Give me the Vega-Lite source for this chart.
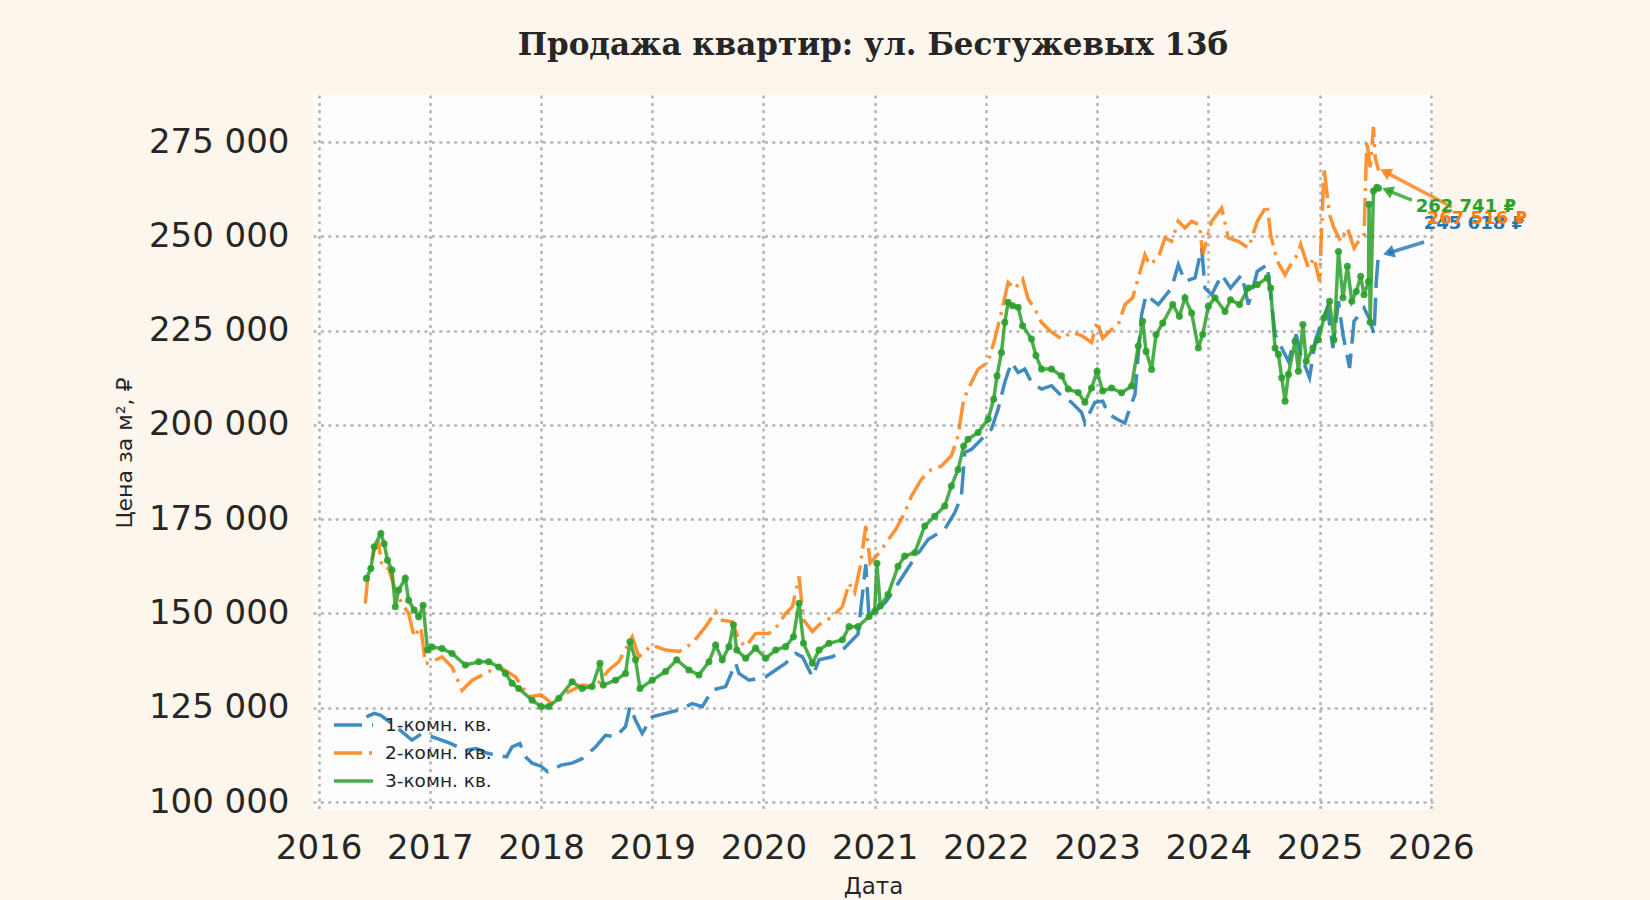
{
  "$schema": "https://vega.github.io/schema/vega-lite/v6.json",
  "autosize": "none",
  "width": 1120,
  "height": 715,
  "padding": {"left": 313, "top": 95, "right": 217, "bottom": 90},
  "background": "#fdf6ec",
  "title": {
    "text": "Продажа квартир: ул. Бестужевых 13б",
    "font": "DejaVu Serif",
    "fontSize": 31,
    "fontWeight": "bold",
    "color": "#262626",
    "anchor": "middle",
    "offset": 33
  },
  "datasets": {
    "prices": [
      {"rooms": "1", "year": 2016.43, "price": 122600}, {"rooms": "1", "year": 2016.5, "price": 123500},
      {"rooms": "1", "year": 2016.56, "price": 123000}, {"rooms": "1", "year": 2016.65, "price": 121000},
      {"rooms": "1", "year": 2016.73, "price": 119100}, {"rooms": "1", "year": 2016.84, "price": 116400},
      {"rooms": "1", "year": 2016.92, "price": 118000}, {"rooms": "1", "year": 2017.02, "price": 117300},
      {"rooms": "1", "year": 2017.1, "price": 116500}, {"rooms": "1", "year": 2017.18, "price": 115600},
      {"rooms": "1", "year": 2017.26, "price": 114500}, {"rooms": "1", "year": 2017.33, "price": 113800},
      {"rooms": "1", "year": 2017.42, "price": 114200}, {"rooms": "1", "year": 2017.51, "price": 113000},
      {"rooms": "1", "year": 2017.6, "price": 112400}, {"rooms": "1", "year": 2017.69, "price": 112000},
      {"rooms": "1", "year": 2017.74, "price": 114600}, {"rooms": "1", "year": 2017.81, "price": 115500},
      {"rooms": "1", "year": 2017.86, "price": 112000}, {"rooms": "1", "year": 2017.92, "price": 110300},
      {"rooms": "1", "year": 2018.0, "price": 109500}, {"rooms": "1", "year": 2018.06, "price": 108000},
      {"rooms": "1", "year": 2018.1, "price": 108500}, {"rooms": "1", "year": 2018.18, "price": 109800},
      {"rooms": "1", "year": 2018.28, "price": 110300}, {"rooms": "1", "year": 2018.37, "price": 111500},
      {"rooms": "1", "year": 2018.46, "price": 113800}, {"rooms": "1", "year": 2018.49, "price": 114600},
      {"rooms": "1", "year": 2018.58, "price": 117700}, {"rooms": "1", "year": 2018.67, "price": 117300},
      {"rooms": "1", "year": 2018.76, "price": 120000}, {"rooms": "1", "year": 2018.8, "price": 125300},
      {"rooms": "1", "year": 2018.85, "price": 121700}, {"rooms": "1", "year": 2018.91, "price": 118200},
      {"rooms": "1", "year": 2019.0, "price": 122600}, {"rooms": "1", "year": 2019.12, "price": 123500},
      {"rooms": "1", "year": 2019.24, "price": 124400}, {"rooms": "1", "year": 2019.36, "price": 126100},
      {"rooms": "1", "year": 2019.45, "price": 125300}, {"rooms": "1", "year": 2019.54, "price": 129700},
      {"rooms": "1", "year": 2019.66, "price": 130600}, {"rooms": "1", "year": 2019.75, "price": 136800},
      {"rooms": "1", "year": 2019.78, "price": 134100}, {"rooms": "1", "year": 2019.87, "price": 132300},
      {"rooms": "1", "year": 2020.02, "price": 133200}, {"rooms": "1", "year": 2020.11, "price": 135000},
      {"rooms": "1", "year": 2020.2, "price": 136800}, {"rooms": "1", "year": 2020.29, "price": 139400},
      {"rooms": "1", "year": 2020.35, "price": 138500}, {"rooms": "1", "year": 2020.44, "price": 133200},
      {"rooms": "1", "year": 2020.5, "price": 137700}, {"rooms": "1", "year": 2020.62, "price": 138500},
      {"rooms": "1", "year": 2020.71, "price": 140300}, {"rooms": "1", "year": 2020.77, "price": 142100},
      {"rooms": "1", "year": 2020.85, "price": 144500}, {"rooms": "1", "year": 2020.92, "price": 163000},
      {"rooms": "1", "year": 2020.95, "price": 148500}, {"rooms": "1", "year": 2021.02, "price": 151000},
      {"rooms": "1", "year": 2021.1, "price": 153000}, {"rooms": "1", "year": 2021.2, "price": 157500},
      {"rooms": "1", "year": 2021.33, "price": 163400}, {"rooms": "1", "year": 2021.48, "price": 169600},
      {"rooms": "1", "year": 2021.63, "price": 172300}, {"rooms": "1", "year": 2021.72, "price": 176700},
      {"rooms": "1", "year": 2021.78, "price": 181100}, {"rooms": "1", "year": 2021.81, "price": 192700},
      {"rooms": "1", "year": 2021.87, "price": 193500}, {"rooms": "1", "year": 2021.96, "price": 196200},
      {"rooms": "1", "year": 2022.05, "price": 198900}, {"rooms": "1", "year": 2022.11, "price": 204200},
      {"rooms": "1", "year": 2022.17, "price": 211300}, {"rooms": "1", "year": 2022.23, "price": 216600},
      {"rooms": "1", "year": 2022.29, "price": 213900}, {"rooms": "1", "year": 2022.35, "price": 214800},
      {"rooms": "1", "year": 2022.41, "price": 211300}, {"rooms": "1", "year": 2022.5, "price": 209500},
      {"rooms": "1", "year": 2022.59, "price": 210400}, {"rooms": "1", "year": 2022.68, "price": 207700},
      {"rooms": "1", "year": 2022.77, "price": 206000}, {"rooms": "1", "year": 2022.86, "price": 203300},
      {"rooms": "1", "year": 2022.89, "price": 200600}, {"rooms": "1", "year": 2022.98, "price": 206000},
      {"rooms": "1", "year": 2023.05, "price": 206300}, {"rooms": "1", "year": 2023.1, "price": 203000},
      {"rooms": "1", "year": 2023.18, "price": 201500}, {"rooms": "1", "year": 2023.25, "price": 200500},
      {"rooms": "1", "year": 2023.3, "price": 205000}, {"rooms": "1", "year": 2023.34, "price": 208000},
      {"rooms": "1", "year": 2023.4, "price": 229300}, {"rooms": "1", "year": 2023.44, "price": 234500},
      {"rooms": "1", "year": 2023.55, "price": 231900}, {"rooms": "1", "year": 2023.67, "price": 236300},
      {"rooms": "1", "year": 2023.73, "price": 242500}, {"rooms": "1", "year": 2023.79, "price": 238100},
      {"rooms": "1", "year": 2023.88, "price": 239000}, {"rooms": "1", "year": 2023.94, "price": 246900},
      {"rooms": "1", "year": 2023.97, "price": 236300}, {"rooms": "1", "year": 2024.03, "price": 234500},
      {"rooms": "1", "year": 2024.12, "price": 239800}, {"rooms": "1", "year": 2024.2, "price": 236300},
      {"rooms": "1", "year": 2024.3, "price": 239800}, {"rooms": "1", "year": 2024.36, "price": 231900},
      {"rooms": "1", "year": 2024.44, "price": 240700}, {"rooms": "1", "year": 2024.53, "price": 242500},
      {"rooms": "1", "year": 2024.6, "price": 224000}, {"rooms": "1", "year": 2024.66, "price": 220400},
      {"rooms": "1", "year": 2024.72, "price": 216900}, {"rooms": "1", "year": 2024.79, "price": 224000},
      {"rooms": "1", "year": 2024.83, "price": 218700}, {"rooms": "1", "year": 2024.91, "price": 212500},
      {"rooms": "1", "year": 2024.96, "price": 222200}, {"rooms": "1", "year": 2025.01, "price": 226600},
      {"rooms": "1", "year": 2025.07, "price": 231000}, {"rooms": "1", "year": 2025.12, "price": 220400},
      {"rooms": "1", "year": 2025.17, "price": 232800}, {"rooms": "1", "year": 2025.21, "price": 224000},
      {"rooms": "1", "year": 2025.27, "price": 215100}, {"rooms": "1", "year": 2025.31, "price": 227500},
      {"rooms": "1", "year": 2025.36, "price": 229300}, {"rooms": "1", "year": 2025.4, "price": 231000},
      {"rooms": "1", "year": 2025.45, "price": 228000}, {"rooms": "1", "year": 2025.49, "price": 224000},
      {"rooms": "1", "year": 2025.51, "price": 238000}, {"rooms": "1", "year": 2025.53, "price": 245618},

      {"rooms": "2", "year": 2016.42, "price": 152600}, {"rooms": "2", "year": 2016.44, "price": 158800},
      {"rooms": "2", "year": 2016.5, "price": 166800}, {"rooms": "2", "year": 2016.54, "price": 168500},
      {"rooms": "2", "year": 2016.57, "price": 162400}, {"rooms": "2", "year": 2016.63, "price": 161900},
      {"rooms": "2", "year": 2016.69, "price": 156200}, {"rooms": "2", "year": 2016.75, "price": 152600},
      {"rooms": "2", "year": 2016.81, "price": 150000}, {"rooms": "2", "year": 2016.86, "price": 143800},
      {"rooms": "2", "year": 2016.92, "price": 146400}, {"rooms": "2", "year": 2016.96, "price": 136700},
      {"rooms": "2", "year": 2017.02, "price": 137200}, {"rooms": "2", "year": 2017.11, "price": 138500},
      {"rooms": "2", "year": 2017.2, "price": 135800}, {"rooms": "2", "year": 2017.29, "price": 129600},
      {"rooms": "2", "year": 2017.38, "price": 132300}, {"rooms": "2", "year": 2017.5, "price": 134100},
      {"rooms": "2", "year": 2017.62, "price": 136000}, {"rooms": "2", "year": 2017.7, "price": 134500},
      {"rooms": "2", "year": 2017.77, "price": 133200}, {"rooms": "2", "year": 2017.89, "price": 127900},
      {"rooms": "2", "year": 2018.0, "price": 128400}, {"rooms": "2", "year": 2018.1, "price": 126100},
      {"rooms": "2", "year": 2018.22, "price": 128800}, {"rooms": "2", "year": 2018.37, "price": 131000},
      {"rooms": "2", "year": 2018.49, "price": 130600}, {"rooms": "2", "year": 2018.61, "price": 135000},
      {"rooms": "2", "year": 2018.7, "price": 137200}, {"rooms": "2", "year": 2018.82, "price": 143800},
      {"rooms": "2", "year": 2018.88, "price": 138500}, {"rooms": "2", "year": 2019.0, "price": 141600},
      {"rooms": "2", "year": 2019.12, "price": 140300}, {"rooms": "2", "year": 2019.24, "price": 139900},
      {"rooms": "2", "year": 2019.36, "price": 142100}, {"rooms": "2", "year": 2019.48, "price": 146500},
      {"rooms": "2", "year": 2019.57, "price": 150500}, {"rooms": "2", "year": 2019.61, "price": 148300},
      {"rooms": "2", "year": 2019.72, "price": 147800}, {"rooms": "2", "year": 2019.78, "price": 143000},
      {"rooms": "2", "year": 2019.84, "price": 141200}, {"rooms": "2", "year": 2019.93, "price": 144700},
      {"rooms": "2", "year": 2020.05, "price": 144700}, {"rooms": "2", "year": 2020.11, "price": 146100},
      {"rooms": "2", "year": 2020.2, "price": 150000}, {"rooms": "2", "year": 2020.26, "price": 151800},
      {"rooms": "2", "year": 2020.32, "price": 159800}, {"rooms": "2", "year": 2020.36, "price": 148300},
      {"rooms": "2", "year": 2020.44, "price": 145200}, {"rooms": "2", "year": 2020.5, "price": 147000},
      {"rooms": "2", "year": 2020.62, "price": 149200}, {"rooms": "2", "year": 2020.71, "price": 151800},
      {"rooms": "2", "year": 2020.77, "price": 158000}, {"rooms": "2", "year": 2020.82, "price": 155500},
      {"rooms": "2", "year": 2020.87, "price": 162500}, {"rooms": "2", "year": 2020.92, "price": 173200},
      {"rooms": "2", "year": 2020.96, "price": 163400}, {"rooms": "2", "year": 2021.04, "price": 166100},
      {"rooms": "2", "year": 2021.19, "price": 172300}, {"rooms": "2", "year": 2021.27, "price": 176700},
      {"rooms": "2", "year": 2021.33, "price": 181100}, {"rooms": "2", "year": 2021.42, "price": 185600},
      {"rooms": "2", "year": 2021.51, "price": 188200}, {"rooms": "2", "year": 2021.6, "price": 189100},
      {"rooms": "2", "year": 2021.69, "price": 191800}, {"rooms": "2", "year": 2021.75, "price": 197100},
      {"rooms": "2", "year": 2021.8, "price": 206800}, {"rooms": "2", "year": 2021.87, "price": 211300},
      {"rooms": "2", "year": 2021.93, "price": 214800}, {"rooms": "2", "year": 2022.02, "price": 216600},
      {"rooms": "2", "year": 2022.08, "price": 222800}, {"rooms": "2", "year": 2022.14, "price": 229900},
      {"rooms": "2", "year": 2022.2, "price": 237800}, {"rooms": "2", "year": 2022.26, "price": 236100},
      {"rooms": "2", "year": 2022.33, "price": 238700}, {"rooms": "2", "year": 2022.38, "price": 233400},
      {"rooms": "2", "year": 2022.44, "price": 230800}, {"rooms": "2", "year": 2022.5, "price": 227200},
      {"rooms": "2", "year": 2022.59, "price": 224600}, {"rooms": "2", "year": 2022.68, "price": 222800},
      {"rooms": "2", "year": 2022.77, "price": 224600}, {"rooms": "2", "year": 2022.86, "price": 223700},
      {"rooms": "2", "year": 2022.95, "price": 221900}, {"rooms": "2", "year": 2023.0, "price": 227500},
      {"rooms": "2", "year": 2023.05, "price": 223000}, {"rooms": "2", "year": 2023.13, "price": 225300},
      {"rooms": "2", "year": 2023.19, "price": 226600}, {"rooms": "2", "year": 2023.25, "price": 231900},
      {"rooms": "2", "year": 2023.32, "price": 233700}, {"rooms": "2", "year": 2023.37, "price": 239000},
      {"rooms": "2", "year": 2023.43, "price": 245100}, {"rooms": "2", "year": 2023.47, "price": 242500},
      {"rooms": "2", "year": 2023.55, "price": 244300}, {"rooms": "2", "year": 2023.61, "price": 249600},
      {"rooms": "2", "year": 2023.67, "price": 248700}, {"rooms": "2", "year": 2023.73, "price": 254000},
      {"rooms": "2", "year": 2023.79, "price": 252200}, {"rooms": "2", "year": 2023.85, "price": 254000},
      {"rooms": "2", "year": 2023.92, "price": 253100}, {"rooms": "2", "year": 2023.95, "price": 245100},
      {"rooms": "2", "year": 2024.03, "price": 254000}, {"rooms": "2", "year": 2024.12, "price": 257500},
      {"rooms": "2", "year": 2024.18, "price": 249600}, {"rooms": "2", "year": 2024.27, "price": 248700},
      {"rooms": "2", "year": 2024.36, "price": 246900}, {"rooms": "2", "year": 2024.44, "price": 254000},
      {"rooms": "2", "year": 2024.53, "price": 258400}, {"rooms": "2", "year": 2024.56, "price": 250400},
      {"rooms": "2", "year": 2024.62, "price": 243400}, {"rooms": "2", "year": 2024.69, "price": 239800},
      {"rooms": "2", "year": 2024.74, "price": 242500}, {"rooms": "2", "year": 2024.8, "price": 245100},
      {"rooms": "2", "year": 2024.83, "price": 247800}, {"rooms": "2", "year": 2024.9, "price": 241600},
      {"rooms": "2", "year": 2024.95, "price": 244300}, {"rooms": "2", "year": 2025.0, "price": 238100},
      {"rooms": "2", "year": 2025.04, "price": 268100}, {"rooms": "2", "year": 2025.09, "price": 255700},
      {"rooms": "2", "year": 2025.13, "price": 252200}, {"rooms": "2", "year": 2025.19, "price": 248700},
      {"rooms": "2", "year": 2025.25, "price": 252200}, {"rooms": "2", "year": 2025.31, "price": 246900},
      {"rooms": "2", "year": 2025.37, "price": 249600}, {"rooms": "2", "year": 2025.4, "price": 250400},
      {"rooms": "2", "year": 2025.425, "price": 275400}, {"rooms": "2", "year": 2025.455, "price": 268300},
      {"rooms": "2", "year": 2025.485, "price": 279000}, {"rooms": "2", "year": 2025.5, "price": 271000},
      {"rooms": "2", "year": 2025.53, "price": 267516},

      {"rooms": "3", "year": 2016.43, "price": 159300}, {"rooms": "3", "year": 2016.47, "price": 161900},
      {"rooms": "3", "year": 2016.5, "price": 167700}, {"rooms": "3", "year": 2016.56, "price": 171200},
      {"rooms": "3", "year": 2016.59, "price": 168500}, {"rooms": "3", "year": 2016.62, "price": 164100},
      {"rooms": "3", "year": 2016.66, "price": 161500}, {"rooms": "3", "year": 2016.69, "price": 151800},
      {"rooms": "3", "year": 2016.72, "price": 156200}, {"rooms": "3", "year": 2016.78, "price": 159300},
      {"rooms": "3", "year": 2016.81, "price": 153500}, {"rooms": "3", "year": 2016.86, "price": 150900},
      {"rooms": "3", "year": 2016.9, "price": 149100}, {"rooms": "3", "year": 2016.94, "price": 152200},
      {"rooms": "3", "year": 2016.98, "price": 140300}, {"rooms": "3", "year": 2017.02, "price": 141100},
      {"rooms": "3", "year": 2017.11, "price": 140700}, {"rooms": "3", "year": 2017.2, "price": 139400},
      {"rooms": "3", "year": 2017.32, "price": 136300}, {"rooms": "3", "year": 2017.44, "price": 137200},
      {"rooms": "3", "year": 2017.53, "price": 137200}, {"rooms": "3", "year": 2017.62, "price": 135800},
      {"rooms": "3", "year": 2017.68, "price": 134100}, {"rooms": "3", "year": 2017.74, "price": 131500},
      {"rooms": "3", "year": 2017.8, "price": 130100}, {"rooms": "3", "year": 2017.92, "price": 127000},
      {"rooms": "3", "year": 2018.0, "price": 125300}, {"rooms": "3", "year": 2018.07, "price": 125300},
      {"rooms": "3", "year": 2018.16, "price": 127500}, {"rooms": "3", "year": 2018.28, "price": 131900},
      {"rooms": "3", "year": 2018.37, "price": 130100}, {"rooms": "3", "year": 2018.46, "price": 130600},
      {"rooms": "3", "year": 2018.53, "price": 136800}, {"rooms": "3", "year": 2018.56, "price": 131000},
      {"rooms": "3", "year": 2018.67, "price": 132300}, {"rooms": "3", "year": 2018.76, "price": 134100},
      {"rooms": "3", "year": 2018.8, "price": 142500}, {"rooms": "3", "year": 2018.85, "price": 137700},
      {"rooms": "3", "year": 2018.89, "price": 130100}, {"rooms": "3", "year": 2019.0, "price": 132300},
      {"rooms": "3", "year": 2019.12, "price": 134600}, {"rooms": "3", "year": 2019.22, "price": 137700},
      {"rooms": "3", "year": 2019.33, "price": 135000}, {"rooms": "3", "year": 2019.42, "price": 133700},
      {"rooms": "3", "year": 2019.51, "price": 137200}, {"rooms": "3", "year": 2019.57, "price": 141600},
      {"rooms": "3", "year": 2019.63, "price": 137700}, {"rooms": "3", "year": 2019.69, "price": 141200},
      {"rooms": "3", "year": 2019.73, "price": 147000}, {"rooms": "3", "year": 2019.76, "price": 140300},
      {"rooms": "3", "year": 2019.84, "price": 138100}, {"rooms": "3", "year": 2019.93, "price": 140800},
      {"rooms": "3", "year": 2020.02, "price": 138100}, {"rooms": "3", "year": 2020.11, "price": 140300},
      {"rooms": "3", "year": 2020.2, "price": 141200}, {"rooms": "3", "year": 2020.27, "price": 143800},
      {"rooms": "3", "year": 2020.32, "price": 152700}, {"rooms": "3", "year": 2020.36, "price": 142100},
      {"rooms": "3", "year": 2020.44, "price": 136800}, {"rooms": "3", "year": 2020.5, "price": 140300},
      {"rooms": "3", "year": 2020.59, "price": 142100}, {"rooms": "3", "year": 2020.71, "price": 143000},
      {"rooms": "3", "year": 2020.77, "price": 146500}, {"rooms": "3", "year": 2020.85, "price": 146500},
      {"rooms": "3", "year": 2020.95, "price": 149200}, {"rooms": "3", "year": 2021.0, "price": 150600},
      {"rooms": "3", "year": 2021.02, "price": 163300}, {"rooms": "3", "year": 2021.05, "price": 152000},
      {"rooms": "3", "year": 2021.12, "price": 155000}, {"rooms": "3", "year": 2021.21, "price": 162500},
      {"rooms": "3", "year": 2021.27, "price": 165200}, {"rooms": "3", "year": 2021.36, "price": 166100},
      {"rooms": "3", "year": 2021.45, "price": 173200}, {"rooms": "3", "year": 2021.54, "price": 175800},
      {"rooms": "3", "year": 2021.63, "price": 178500}, {"rooms": "3", "year": 2021.69, "price": 183800},
      {"rooms": "3", "year": 2021.75, "price": 188200}, {"rooms": "3", "year": 2021.8, "price": 194400},
      {"rooms": "3", "year": 2021.84, "price": 196200}, {"rooms": "3", "year": 2021.93, "price": 198000},
      {"rooms": "3", "year": 2022.02, "price": 201500}, {"rooms": "3", "year": 2022.07, "price": 206800},
      {"rooms": "3", "year": 2022.1, "price": 213000}, {"rooms": "3", "year": 2022.14, "price": 219200},
      {"rooms": "3", "year": 2022.17, "price": 227200}, {"rooms": "3", "year": 2022.2, "price": 232500},
      {"rooms": "3", "year": 2022.24, "price": 231600}, {"rooms": "3", "year": 2022.29, "price": 231200},
      {"rooms": "3", "year": 2022.33, "price": 226300}, {"rooms": "3", "year": 2022.41, "price": 222800},
      {"rooms": "3", "year": 2022.45, "price": 218400}, {"rooms": "3", "year": 2022.5, "price": 214800},
      {"rooms": "3", "year": 2022.59, "price": 214800}, {"rooms": "3", "year": 2022.68, "price": 213000},
      {"rooms": "3", "year": 2022.74, "price": 209500}, {"rooms": "3", "year": 2022.83, "price": 208600},
      {"rooms": "3", "year": 2022.89, "price": 206000}, {"rooms": "3", "year": 2022.95, "price": 209800},
      {"rooms": "3", "year": 2023.0, "price": 214200}, {"rooms": "3", "year": 2023.05, "price": 209000},
      {"rooms": "3", "year": 2023.13, "price": 209800}, {"rooms": "3", "year": 2023.22, "price": 208500},
      {"rooms": "3", "year": 2023.31, "price": 210300}, {"rooms": "3", "year": 2023.37, "price": 220900},
      {"rooms": "3", "year": 2023.41, "price": 227500}, {"rooms": "3", "year": 2023.44, "price": 219500},
      {"rooms": "3", "year": 2023.49, "price": 214700}, {"rooms": "3", "year": 2023.53, "price": 224000},
      {"rooms": "3", "year": 2023.59, "price": 227000}, {"rooms": "3", "year": 2023.68, "price": 231900},
      {"rooms": "3", "year": 2023.74, "price": 228800}, {"rooms": "3", "year": 2023.79, "price": 233700},
      {"rooms": "3", "year": 2023.85, "price": 229700}, {"rooms": "3", "year": 2023.91, "price": 220400},
      {"rooms": "3", "year": 2023.95, "price": 224000}, {"rooms": "3", "year": 2024.0, "price": 231500},
      {"rooms": "3", "year": 2024.06, "price": 233700}, {"rooms": "3", "year": 2024.15, "price": 230100},
      {"rooms": "3", "year": 2024.2, "price": 233200}, {"rooms": "3", "year": 2024.28, "price": 231900},
      {"rooms": "3", "year": 2024.36, "price": 236300}, {"rooms": "3", "year": 2024.44, "price": 237200},
      {"rooms": "3", "year": 2024.53, "price": 239000}, {"rooms": "3", "year": 2024.56, "price": 236300},
      {"rooms": "3", "year": 2024.6, "price": 220400}, {"rooms": "3", "year": 2024.63, "price": 218700},
      {"rooms": "3", "year": 2024.66, "price": 212500}, {"rooms": "3", "year": 2024.69, "price": 206300},
      {"rooms": "3", "year": 2024.72, "price": 213400}, {"rooms": "3", "year": 2024.78, "price": 222200},
      {"rooms": "3", "year": 2024.81, "price": 214200}, {"rooms": "3", "year": 2024.85, "price": 226600},
      {"rooms": "3", "year": 2024.88, "price": 216900}, {"rooms": "3", "year": 2024.94, "price": 220400},
      {"rooms": "3", "year": 2024.99, "price": 222600}, {"rooms": "3", "year": 2025.04, "price": 228400},
      {"rooms": "3", "year": 2025.09, "price": 232800}, {"rooms": "3", "year": 2025.13, "price": 222600},
      {"rooms": "3", "year": 2025.17, "price": 246000}, {"rooms": "3", "year": 2025.21, "price": 233700},
      {"rooms": "3", "year": 2025.25, "price": 242100}, {"rooms": "3", "year": 2025.29, "price": 232800},
      {"rooms": "3", "year": 2025.33, "price": 235400}, {"rooms": "3", "year": 2025.37, "price": 239400},
      {"rooms": "3", "year": 2025.4, "price": 234500}, {"rooms": "3", "year": 2025.44, "price": 238000},
      {"rooms": "3", "year": 2025.445, "price": 258500}, {"rooms": "3", "year": 2025.455, "price": 227200},
      {"rooms": "3", "year": 2025.485, "price": 262000}, {"rooms": "3", "year": 2025.515, "price": 263000},
      {"rooms": "3", "year": 2025.53, "price": 262741}
    ],
    "notes": [
      {"rooms": "1", "textYear": 2025.937, "textPrice": 253200, "label": "245 618 ₽", "fromYear": 2025.94, "fromPrice": 248500, "toYear": 2025.62, "toPrice": 245600},
      {"rooms": "2", "textYear": 2025.964, "textPrice": 254500, "label": "267 516 ₽", "fromYear": 2026.19, "fromPrice": 257800, "toYear": 2025.59, "toPrice": 267100},
      {"rooms": "3", "textYear": 2025.865, "textPrice": 257700, "label": "262 741 ₽", "fromYear": 2025.83, "fromPrice": 259600, "toYear": 2025.61, "toPrice": 262200}
    ]
  },
  "layer": [
    {
      "data": {"name": "prices"},
      "mark": {"type": "line", "strokeWidth": 3.5, "opacity": 0.85, "clip": true},
      "encoding": {
        "x": {
          "field": "year", "type": "quantitative", "title": "Дата",
          "scale": {"domain": [2015.95, 2026.02], "nice": false, "zero": false},
          "axis": {"values": [2016, 2017, 2018, 2019, 2020, 2021, 2022, 2023, 2024, 2025, 2026], "format": "d", "labelFlush": false, "labelPadding": 21, "titleFontSize": 23, "titlePadding": 10}
        },
        "y": {
          "field": "price", "type": "quantitative", "title": "Цена за м², ₽",
          "scale": {"domain": [97880, 287490], "nice": false, "zero": false},
          "axis": {"values": [100000, 125000, 150000, 175000, 200000, 225000, 250000, 275000], "labelExpr": "format(datum.value / 1000, 'd') + ' 000'", "labelFlush": false, "labelPadding": 24, "titleFontSize": 22, "titlePadding": 12}
        },
        "color": {
          "field": "rooms", "type": "nominal",
          "scale": {"domain": ["1", "2", "3"], "range": ["#1f77b4", "#ff7f0e", "#2ca02c"]},
          "legend": {"title": null, "labelExpr": "datum.label + '-комн. кв.'"}
        },
        "strokeDash": {
          "field": "rooms", "type": "nominal",
          "scale": {"domain": ["1", "2", "3"], "range": [[28, 10], [28, 7, 3, 7], [1, 0]]},
          "legend": {"title": null, "labelExpr": "datum.label + '-комн. кв.'"}
        }
      }
    },
    {
      "data": {"name": "prices"},
      "transform": [{"filter": "datum.rooms === '3'"}],
      "mark": {"type": "point", "filled": true, "size": 50, "opacity": 0.9, "color": "#2ca02c", "clip": true},
      "encoding": {
        "x": {"field": "year", "type": "quantitative"},
        "y": {"field": "price", "type": "quantitative"}
      }
    },
    {
      "data": {"name": "notes"},
      "mark": {"type": "rule", "strokeWidth": 3.5, "opacity": 0.8},
      "encoding": {
        "x": {"field": "fromYear", "type": "quantitative"},
        "y": {"field": "fromPrice", "type": "quantitative"},
        "x2": {"field": "toYear"},
        "y2": {"field": "toPrice"},
        "stroke": {"field": "rooms", "type": "nominal", "scale": {"domain": ["1", "2", "3"], "range": ["#1f77b4", "#ff7f0e", "#2ca02c"]}, "legend": null}
      }
    },
    {
      "data": {"name": "notes"},
      "mark": {"type": "point", "shape": "triangle-up", "filled": true, "size": 170, "opacity": 0.85},
      "encoding": {
        "x": {"field": "toYear", "type": "quantitative"},
        "y": {"field": "toPrice", "type": "quantitative"},
        "angle": {"condition": [{"test": "datum.rooms === '1'", "value": 253}, {"test": "datum.rooms === '2'", "value": 298}], "value": 292},
        "fill": {"field": "rooms", "type": "nominal", "scale": {"domain": ["1", "2", "3"], "range": ["#1f77b4", "#ff7f0e", "#2ca02c"]}, "legend": null}
      }
    },
    {
      "data": {"name": "notes"},
      "mark": {"type": "text", "align": "left", "baseline": "middle", "fontSize": 18, "fontWeight": "bold", "font": "DejaVu Sans"},
      "encoding": {
        "x": {"field": "textYear", "type": "quantitative"},
        "y": {"field": "textPrice", "type": "quantitative"},
        "text": {"field": "label"},
        "fill": {"field": "rooms", "type": "nominal", "legend": null}
      }
    }
  ],
  "config": {
    "font": "DejaVu Sans",
    "view": {"fill": "#fdfdfd", "stroke": null},
    "axis": {
      "grid": true, "gridColor": "#b3b3b3", "gridDash": [3, 4.4], "gridWidth": 2.5,
      "domain": false, "ticks": false,
      "labelFont": "DejaVu Sans", "labelFontSize": 34, "labelColor": "#262626",
      "titleFont": "DejaVu Sans", "titleFontWeight": "normal", "titleColor": "#262626"
    },
    "legend": {
      "orient": "none", "legendX": 19, "legendY": 616,
      "padding": 0, "rowPadding": 0, "clipHeight": 28,
      "symbolSize": 1521, "symbolStrokeWidth": 3.5, "symbolType": "stroke",
      "labelFont": "DejaVu Sans", "labelFontSize": 18.5, "labelColor": "#262626", "labelOffset": 10
    }
  }
}
